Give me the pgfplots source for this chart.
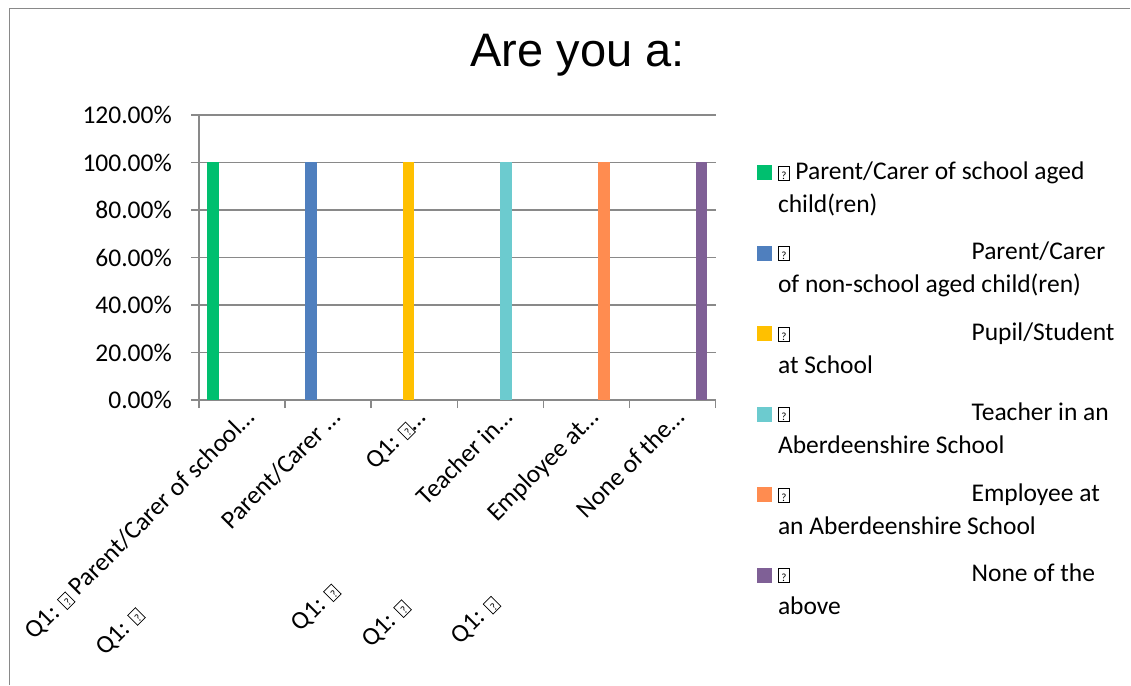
\documentclass[border=0pt]{standalone}
\usepackage{pgfplots}
\pgfplotsset{compat=1.18}
\usepackage{fontspec}
\setmainfont{Carlito}
\newfontfamily\titlefont{Liberation Sans}
\definecolor{c1}{HTML}{00BF6F}
\definecolor{c2}{HTML}{4F7FBE}
\definecolor{c3}{HTML}{FFC000}
\definecolor{c4}{HTML}{6CCBCF}
\definecolor{c5}{HTML}{FF8C50}
\definecolor{c6}{HTML}{7F6096}
\definecolor{gridgray}{HTML}{898989}
\newcommand\qbox{{\setlength\fboxsep{0.6pt}\setlength\fboxrule{0.7pt}\fbox{\rule{0pt}{12pt}\makebox[9pt]{\fontsize{11}{11}\selectfont ?}}}}
\begin{document}
\begin{tikzpicture}
\useasboundingbox (0,0) rectangle (1131pt,685pt);
\draw[gridgray, line width=1.5pt] (9.5pt,0pt) -- (9.5pt,676.5pt) -- (1130pt,676.5pt);
\begin{axis}[
  at={(199pt,285pt)}, anchor=south west,
  scale only axis, width=516.5pt, height=285pt,
  xmin=-0.5, xmax=5.5, ymin=0, ymax=120,
  axis x line=bottom, axis y line=left,
  axis line style={gridgray, line width=1.5pt, -},
  ymajorgrids, grid style={gridgray, line width=1.5pt},
  tick align=outside, major tick length=8pt, minor tick length=8pt,
  tick style={gridgray, line width=1.5pt},
  ytick={0,20,...,120},
  /pgf/number format/assume math mode=true,
  yticklabel={\pgfmathprintnumber[fixed,fixed zerofill,precision=2]{\tick}\%},
  yticklabel style={font=\fontsize{25.5}{30}\selectfont, anchor=east, inner sep=0pt, xshift=-19pt},
  xtick={0,...,5},
  major x tick style={draw=none},
  minor xtick={-0.5,0.5,...,5.5},
  minor x tick style={gridgray, line width=1.5pt},
  xticklabels={
    {Q1: \qbox{} Parent/Carer of school…},
    {Q1: \qbox\hspace{122pt}Parent/Carer …},
    {Q1: \qbox…},
    {Q1: \qbox\hspace{122pt}Teacher in…},
    {Q1: \qbox\hspace{122pt}Employee at…},
    {Q1: \qbox\hspace{122pt}None of the…}},
  xticklabel style={font=\fontsize{25.5}{30}\selectfont, rotate=45, anchor=north east, inner sep=0pt, xshift=2pt},
  ybar=0pt, bar width=11.6pt,
  title={Are you a:},
  title style={at={(axis description cs:0.7328,1.1474)}, anchor=base, font=\titlefont\fontsize{47}{50}\selectfont, inner sep=0pt},
  legend image code/.code={\fill[#1] (0pt,-1pt) rectangle (15pt,14pt);},
  legend style={at={(axis description cs:1.0804,0.8456)}, anchor=north west, draw=none, fill=none,
    inner sep=0pt, outer sep=0pt, row sep=20.5pt, column sep=6pt,
    font=\fontsize{25.5}{33}\selectfont,
    nodes={inner sep=0pt, outer sep=0pt, text depth=},
    cells={anchor=base west}},
]
\addplot[fill=c1, draw=none] coordinates {(0,100)};
\addlegendentry{\parbox[t]{345pt}{\raggedright\rule{0pt}{20pt}\qbox{} Parent/Carer of school aged\\child(ren)\rule[-7pt]{0pt}{7pt}}}
\addplot[fill=c2, draw=none] coordinates {(1,100)};
\addlegendentry{\parbox[t]{345pt}{\raggedright\rule{0pt}{20pt}\qbox\hspace{182pt}Parent/Carer\\of non-school aged child(ren)\rule[-7pt]{0pt}{7pt}}}
\addplot[fill=c3, draw=none] coordinates {(2,100)};
\addlegendentry{\parbox[t]{345pt}{\raggedright\rule{0pt}{20pt}\qbox\hspace{182pt}Pupil/Student\\at School\rule[-7pt]{0pt}{7pt}}}
\addplot[fill=c4, draw=none] coordinates {(3,100)};
\addlegendentry{\parbox[t]{345pt}{\raggedright\rule{0pt}{20pt}\qbox\hspace{182pt}Teacher in an\\Aberdeenshire School\rule[-7pt]{0pt}{7pt}}}
\addplot[fill=c5, draw=none] coordinates {(4,100)};
\addlegendentry{\parbox[t]{345pt}{\raggedright\rule{0pt}{20pt}\qbox\hspace{182pt}Employee at\\an Aberdeenshire School\rule[-7pt]{0pt}{7pt}}}
\addplot[fill=c6, draw=none] coordinates {(5,100)};
\addlegendentry{\parbox[t]{345pt}{\raggedright\rule{0pt}{20pt}\qbox\hspace{182pt}None of the\\above\rule[-7pt]{0pt}{7pt}}}
\end{axis}
\end{tikzpicture}
\end{document}
